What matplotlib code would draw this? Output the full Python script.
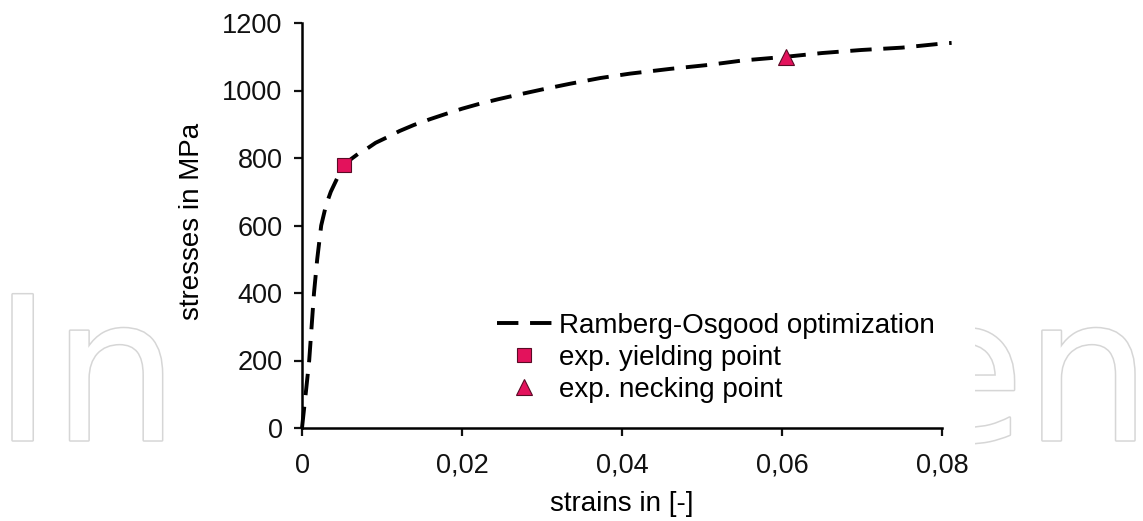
import matplotlib
matplotlib.use("Agg")
import matplotlib.pyplot as plt
import matplotlib.patheffects as pe
from matplotlib.patches import Rectangle

plt.rcParams['font.family'] = ['Liberation Sans', 'DejaVu Sans']

# Ramberg-Osgood fit, strain [-] vs stress [MPa]
strain = [0, 0.0005, 0.0009, 0.0015, 0.0019, 0.0024, 0.0030, 0.0036, 0.0045,
          0.0053, 0.0062, 0.0070, 0.0079, 0.0092, 0.0107, 0.0122, 0.0140,
          0.0160, 0.0179, 0.0200, 0.0221, 0.0245, 0.0269, 0.0300, 0.0335,
          0.0373, 0.0410, 0.0460, 0.0509, 0.0551, 0.0605, 0.0650, 0.0699,
          0.0750, 0.0800, 0.0812]
stress = [0, 110, 200, 400, 500, 600, 660, 700, 745,
          780, 798, 812, 824, 845, 862, 880, 898,
          915, 930, 946, 960, 974, 987, 1003, 1020,
          1037, 1050, 1064, 1076, 1089, 1100, 1111, 1120,
          1127, 1139, 1141]

# experimental points
yield_pt = (0.0053, 780)
neck_pt = (0.0605, 1100)

xticks = [0, 0.02, 0.04, 0.06, 0.08]
xlabels = ['0', '0,02', '0,04', '0,06', '0,08']
yticks = [0, 200, 400, 600, 800, 1000, 1200]

red = '#e3125c'
fs_tick = 19.5
fs = 20

fig = plt.figure(figsize=(11.43, 5.21), dpi=100)

# publisher watermark behind the plot
fig.text(-0.006, 0.155, 'IntechOpen', fontsize=144, family='DejaVu Sans',
         color='white', va='baseline', ha='left', zorder=-3,
         path_effects=[pe.withStroke(linewidth=2.2, foreground='#d6d6d6')])
fig.patches.append(Rectangle((178 / 1143, 0), (975 - 178) / 1143, 1,
                             transform=fig.transFigure, facecolor='white',
                             edgecolor='none', zorder=-2))

ax = fig.add_axes([302 / 1143, (521 - 428) / 521, 640 / 1143, 405 / 521])
ax.patch.set_alpha(0)

ax.plot(strain, stress, color='black', lw=2.8, linestyle=(0, (5.5, 3)),
        clip_on=False, label='Ramberg-Osgood optimization')
ax.plot(*yield_pt, marker='s', ms=10, color=red, mec='#5a0a25', mew=0.8,
        linestyle='none', label='exp. yielding point', zorder=3)
ax.plot(*neck_pt, marker='^', ms=11, color=red, mec='#5a0a25', mew=0.8,
        linestyle='none', label='exp. necking point', zorder=3)

ax.set_xlim(0, 0.08)
ax.set_ylim(0, 1200)
ax.set_xticks(xticks)
ax.set_xticklabels(xlabels)
ax.set_yticks(yticks)

for s in ['top', 'right']:
    ax.spines[s].set_visible(False)
for s in ['left', 'bottom']:
    ax.spines[s].set_linewidth(1.8)
ax.tick_params(axis='both', direction='out', length=6, width=1.6,
               labelsize=fs_tick, colors='#111111')
ax.tick_params(axis='y', pad=8)
ax.tick_params(axis='x', pad=12)

ax.set_xlabel('strains in [-]', fontsize=fs)
ax.set_ylabel('stresses in MPa', fontsize=fs)
ax.xaxis.set_label_coords(0.5, -0.155)
ax.yaxis.set_label_coords(-0.152, 0.509)

ax.legend(loc='upper left', bbox_to_anchor=(0.304, 0.285), frameon=False,
          fontsize=fs, borderpad=0, borderaxespad=0, handlelength=2.0,
          handletextpad=0.25, labelspacing=0.22)

fig.savefig('out.png', dpi=100)
